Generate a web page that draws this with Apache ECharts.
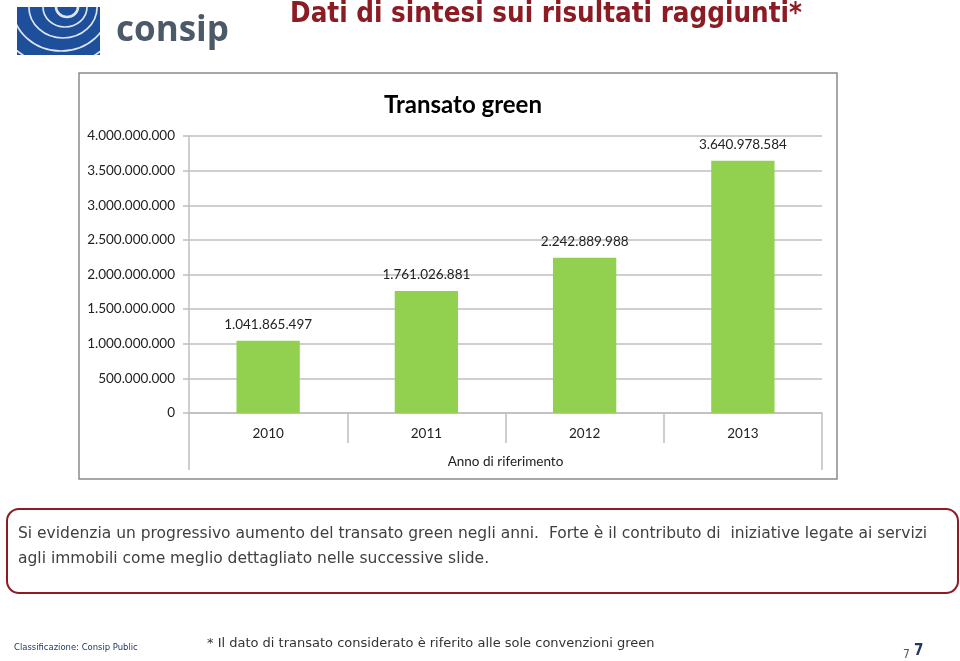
<!DOCTYPE html>
<html>
<head>
<meta charset="utf-8">
<script src="https://cdn.jsdelivr.net/npm/echarts@6/dist/echarts.min.js"></script>
<style>
  html, body { margin: 0; padding: 0; background: #fff; }
  #chart { width: 960px; height: 661px; }
</style>
</head>
<body>
<div id="chart"></div>
<script>
// chart data
var years = ['2010', '2011', '2012', '2013']
var transato = [1041865497, 1761026881, 2242889988, 3640978584]
var yTicks = [0, 500000000, 1000000000, 1500000000, 2000000000, 2500000000, 3000000000, 3500000000, 4000000000]

var chartFont = 'Lato'
var slideRed = '#8c1c24'

function fmt(v) {
  return String(Math.round(v)).replace(/\B(?=(\d{3})+(?!\d))/g, '.')
}

// logo rings (white arcs over blue square)
var ringRadii = [10, 20, 31, 44, 58, 73]
var logoParts = [{
  type: 'rect', shape: { x: 17, y: 7, width: 83, height: 48 },
  style: { fill: '#1d4f9b' }, z: 1
}]
ringRadii.forEach(function (r, i) {
  logoParts.push({
    type: 'ellipse', shape: { cx: 67 - i * 2, cy: 7, rx: r * 1.1, ry: r },
    style: { fill: null, stroke: '#ffffff', lineWidth: i === 0 ? 2.6 : 1.7, opacity: 0.85 }, z: 2
  })
})
// white masks to keep rings inside the square
logoParts.push(
  { type: 'rect', shape: { x: 0, y: 0, width: 290, height: 7 }, style: { fill: '#fff' }, z: 3 },
  { type: 'rect', shape: { x: 100, y: 0, width: 190, height: 70 }, style: { fill: '#fff' }, z: 3 },
  { type: 'rect', shape: { x: 0, y: 55, width: 290, height: 15 }, style: { fill: '#fff' }, z: 3 },
  { type: 'rect', shape: { x: 0, y: 0, width: 17, height: 70 }, style: { fill: '#fff' }, z: 3 },
  {
    type: 'text', x: 116, y: 31, z: 4,
    style: { text: 'consip', font: 'bold 35px "Open Sans"', fill: '#4b5968', textVerticalAlign: 'middle' }
  }
)

var chart = echarts.init(document.getElementById('chart'))
chart.setOption({
  backgroundColor: '#fff',
  animation: false,
  textStyle: { fontFamily: chartFont },
  title: {
    text: 'Transato green',
    left: 458,
    top: 88,
    textAlign: 'center',
    textStyle: { fontFamily: chartFont, fontSize: 24, fontWeight: 'bold', color: '#000' }
  },
  grid: { left: 189, right: 138, top: 136, bottom: 248 },
  xAxis: [{
    type: 'category',
    data: years,
    axisLine: { lineStyle: { color: '#bfbfbf', width: 1.5 } },
    axisTick: { show: true, length: 30, lineStyle: { color: '#bfbfbf', width: 1.5 } },
    axisLabel: { margin: 14, fontSize: 13.5, color: '#222', fontFamily: chartFont }
  }, {
    type: 'category',
    data: ['Anno di riferimento'],
    position: 'bottom',
    offset: 30,
    axisLine: { show: false },
    axisTick: { show: true, length: 27, lineStyle: { color: '#bfbfbf', width: 1.5 } },
    axisLabel: { margin: 12, fontSize: 13.5, color: '#222', fontFamily: chartFont }
  }],
  yAxis: {
    type: 'value',
    min: yTicks[0],
    max: yTicks[yTicks.length - 1],
    interval: yTicks[1] - yTicks[0],
    axisLine: { show: true, lineStyle: { color: '#bfbfbf', width: 1.5 } },
    axisTick: { show: true, length: 6, lineStyle: { color: '#bfbfbf', width: 1.5 } },
    splitLine: { lineStyle: { color: '#bfbfbf', width: 1.5 } },
    axisLabel: { margin: 14, fontSize: 13.5, color: '#222', fontFamily: chartFont, formatter: fmt }
  },
  series: [{
    type: 'bar',
    data: transato,
    barWidth: '40%',
    itemStyle: { color: '#92d050' },
    label: {
      show: true, position: 'top', distance: 9,
      fontSize: 13.5, color: '#222', fontFamily: chartFont,
      formatter: function (p) { return fmt(p.value) }
    }
  }],
  graphic: logoParts.concat([
    {
      type: 'rect', shape: { x: 79, y: 73, width: 758, height: 406 },
      style: { fill: null, stroke: '#8a8a8a', lineWidth: 1.5 }, z: 5
    },
    {
      type: 'text', x: 546, y: 15,
      style: {
        text: 'Dati di sintesi sui risultati raggiunti*',
        font: 'bold 27.5px "DejaVu Sans Condensed"', fill: slideRed,
        textAlign: 'center', textVerticalAlign: 'middle'
      }
    },
    {
      type: 'rect', shape: { x: 7, y: 509, width: 951, height: 84, r: 12 },
      style: { fill: '#fff', stroke: slideRed, lineWidth: 2 }
    },
    {
      type: 'text', x: 18, y: 534,
      style: {
        text: 'Si evidenzia un progressivo aumento del transato green negli anni.  Forte è il contributo di  iniziative legate ai servizi',
        font: '15.5px "DejaVu Sans"', fill: '#404040', textVerticalAlign: 'middle'
      }
    },
    {
      type: 'text', x: 18, y: 559,
      style: {
        text: 'agli immobili come meglio dettagliato nelle successive slide.',
        font: '15.5px "DejaVu Sans"', fill: '#404040', textVerticalAlign: 'middle'
      }
    },
    {
      type: 'text', x: 14, y: 648,
      style: {
        text: 'Classificazione: Consip Public',
        font: '9.4px "DejaVu Sans Condensed"', fill: '#1f3864', textVerticalAlign: 'middle'
      }
    },
    {
      type: 'text', x: 207, y: 644,
      style: {
        text: '* Il dato di transato considerato è riferito alle sole convenzioni green',
        font: '13px "DejaVu Sans"', fill: '#333', textVerticalAlign: 'middle'
      }
    },
    {
      type: 'text', x: 903, y: 655,
      style: { text: '7', font: '12px "DejaVu Sans Condensed"', fill: '#555', textVerticalAlign: 'middle' }
    },
    {
      type: 'text', x: 914, y: 651,
      style: { text: '7', font: 'bold 15px "DejaVu Sans Condensed"', fill: '#1f3864', textVerticalAlign: 'middle' }
    }
  ])
})
</script>
</body>
</html>
